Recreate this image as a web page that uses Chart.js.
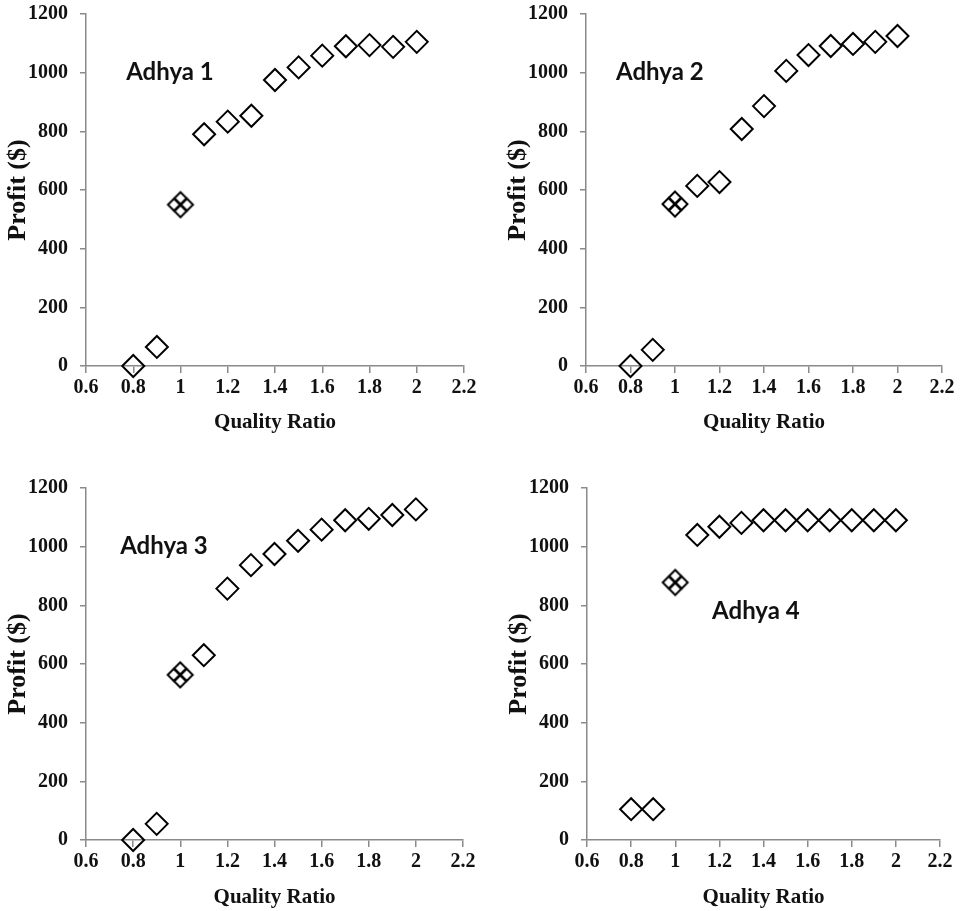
<!DOCTYPE html>
<html>
<head>
<meta charset="utf-8">
<script src="https://cdn.jsdelivr.net/npm/chart.js@4.4.0/dist/chart.umd.min.js"></script>
<style>
  html, body { margin: 0; padding: 0; background: #fff; }
  #wrap { position: relative; width: 965px; height: 911px; }
  canvas { position: absolute; }
</style>
</head>
<body>
<div id="wrap">
  <canvas id="c1" width="482" height="440" style="left:0;top:0"></canvas>
  <canvas id="c2" width="465" height="440" style="left:500px;top:0"></canvas>
  <canvas id="c3" width="482" height="437" style="left:0;top:474px"></canvas>
  <canvas id="c4" width="464" height="437" style="left:501px;top:474px"></canvas>
</div>
<script>
const qualityRatio = [0.8, 0.9, 1.0, 1.1, 1.2, 1.3, 1.4, 1.5, 1.6, 1.7, 1.8, 1.9, 2.0];
const profitAdhya1 = [0, 65, 550, 790, 833, 853, 975, 1018, 1058, 1090, 1094, 1088, 1105];
const profitAdhya2 = [0, 55, 552, 614, 627, 808, 886, 1006, 1060, 1091, 1098, 1105, 1125];
const profitAdhya3 = [0, 55, 563, 630, 857, 937, 975, 1020, 1058, 1090, 1095, 1108, 1127];
const profitAdhya4 = [105, 105, 878, 1040, 1068, 1081, 1090, 1090, 1090, 1090, 1090, 1090, 1090];
const panelNames = ['Adhya 1', 'Adhya 2', 'Adhya 3', 'Adhya 4'];
const xTicks = [0.6, 0.8, 1, 1.2, 1.4, 1.6, 1.8, 2, 2.2];
const yTicks = [0, 200, 400, 600, 800, 1000, 1200];

const axisColor = '#8a8a8a';
const serif = 'Liberation Serif';

// the x = 1 point looks like four small diamonds stacked together
function clusterMarker() {
  const c = document.createElement('canvas');
  c.width = 30; c.height = 30;
  const g = c.getContext('2d');
  g.strokeStyle = '#000';
  g.lineWidth = 2;
  const r = 6, d = 6.5;
  [[-d, 0], [d, 0], [0, -d], [0, d]].forEach(([dx, dy]) => {
    const x = 15 + dx, y = 15 + dy;
    g.beginPath();
    g.moveTo(x - r, y); g.lineTo(x, y - r); g.lineTo(x + r, y); g.lineTo(x, y + r);
    g.closePath();
    g.stroke();
  });
  return c;
}
const cluster = clusterMarker();

const nameLabel = {
  id: 'nameLabel',
  afterDatasetsDraw(chart, args, opts) {
    const { ctx, scales: { x, y } } = chart;
    ctx.save();
    ctx.font = 'bold 24px Lato';
    ctx.fillStyle = '#111';
    ctx.textAlign = 'left';
    ctx.textBaseline = 'middle';
    ctx.fillText(opts.text, x.getPixelForValue(opts.x), y.getPixelForValue(opts.y));
    ctx.restore();
  }
};

function makePanel(id, values, name, labelAt, padRight, xHeight, titlePad) {
  new Chart(document.getElementById(id), {
    type: 'scatter',
    data: {
      datasets: [{
        data: qualityRatio.map((q, i) => ({ x: q, y: values[i] })),
        pointStyle: c => (qualityRatio[c.dataIndex] === 1 ? cluster : 'rectRot'),
        pointRadius: 11,
        pointHoverRadius: 11,
        borderColor: '#000',
        backgroundColor: 'rgba(0,0,0,0)',
        borderWidth: 2,
        clip: false
      }]
    },
    options: {
      responsive: false,
      animation: false,
      layout: { padding: { top: 14, right: padRight, left: 0, bottom: 0 } },
      plugins: {
        legend: { display: false },
        tooltip: { enabled: false },
        nameLabel: { text: name, x: labelAt[0], y: labelAt[1] }
      },
      scales: {
        x: {
          type: 'linear', min: 0.6, max: 2.2,
          afterBuildTicks: s => { s.ticks = xTicks.map(v => ({ value: v })); },
          afterFit: s => { s.height = xHeight; },
          ticks: {
            callback: v => String(v),
            color: '#111', padding: 3,
            font: { family: serif, size: 20, weight: 'bold' }
          },
          grid: { drawOnChartArea: false, drawTicks: true, tickLength: 7, color: axisColor, lineWidth: 1.5 },
          border: { display: true, color: axisColor, width: 1.5 },
          title: {
            display: true, text: 'Quality Ratio', color: '#111',
            padding: { top: 0, bottom: titlePad },
            font: { family: serif, size: 21, weight: 'bold' }
          }
        },
        y: {
          type: 'linear', min: 0, max: 1200,
          afterBuildTicks: s => { s.ticks = yTicks.map(v => ({ value: v })); },
          afterFit: s => { s.width = 86; s.paddingTop = 0; s.paddingBottom = 0; },
          ticks: {
            callback: v => String(v),
            color: '#111', padding: 12,
            font: { family: serif, size: 20, weight: 'bold' }
          },
          grid: { drawOnChartArea: false, drawTicks: true, tickLength: 6, color: axisColor, lineWidth: 1.5 },
          border: { display: true, color: axisColor, width: 1.5 },
          title: {
            display: true, text: 'Profit ($)', color: '#111',
            padding: { top: 3, bottom: 0 },
            font: { family: serif, size: 26, weight: 'bold' }
          }
        }
      }
    },
    plugins: [nameLabel]
  });
}

makePanel('c1', profitAdhya1, panelNames[0], [0.77, 1000], 18, 74, 5);
makePanel('c2', profitAdhya2, panelNames[1], [0.735, 1000], 23, 74, 5);
makePanel('c3', profitAdhya3, panelNames[2], [0.745, 1000], 19, 71, 1);
makePanel('c4', profitAdhya4, panelNames[3], [1.167, 780], 25, 71, 1);
</script>
</body>
</html>
